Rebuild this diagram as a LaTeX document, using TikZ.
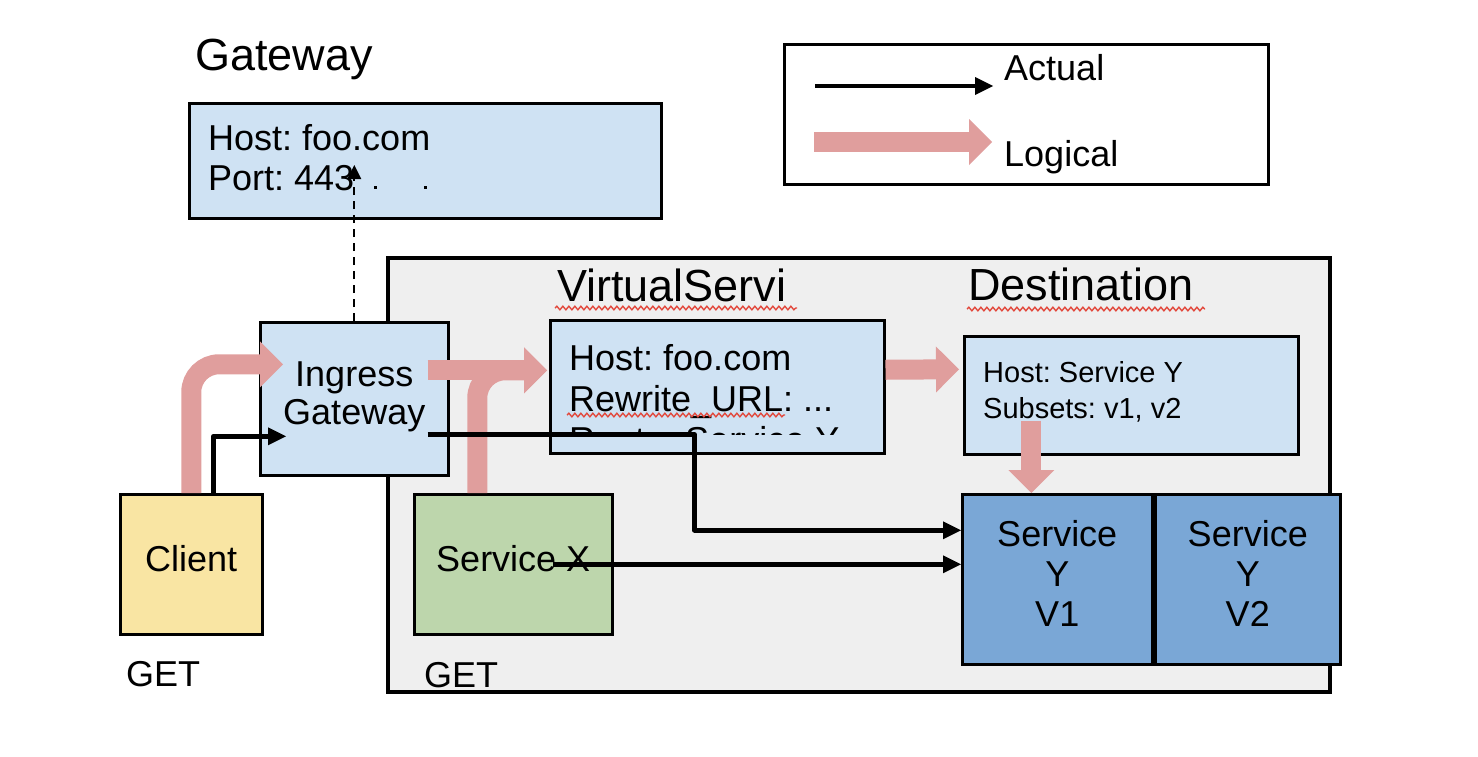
\documentclass[tikz,border=0pt]{standalone}
\usepackage{fontspec}
\setmainfont{Liberation Sans}
\usetikzlibrary{arrows.meta,decorations.pathmorphing}
\frenchspacing

\definecolor{cfgblue}{RGB}{207,226,243}
\definecolor{meshgray}{RGB}{239,239,239}
\definecolor{clientyellow}{RGB}{249,229,163}
\definecolor{svcgreen}{RGB}{189,214,172}
\definecolor{svcblue}{RGB}{122,167,214}
\definecolor{logicpink}{RGB}{224,158,157}
\definecolor{spellred}{RGB}{226,72,60}

\begin{document}
\begin{tikzpicture}[x=1pt,y=-1pt,
		logical/.style={color=logicpink, line width=20pt, -{Triangle[length=23pt,width=46pt,line width=0pt]}},
		actual/.style={color=black, line width=4.5pt, line join=round, -{Triangle[length=18pt,width=18pt,line width=0pt]}},
		cfglink/.style={color=black, line width=2pt, dash pattern=on 8pt off 6pt, -{Triangle[length=14pt,width=14pt,line width=0pt]}},
		spell/.style={spellred, line width=1.4pt, decorate, decoration={snake, amplitude=1.8pt, segment length=6pt}}]
		\useasboundingbox (0,0) rectangle (1478,756);

		% mesh
		\node[draw, line width=4pt, fill=meshgray, anchor=north west, inner sep=0pt, minimum width=942, minimum height=434] (mesh) at (386,256) {};

		\begin{scope}[every node/.style={draw, line width=2.5pt, anchor=north west, inner sep=0pt, text depth=11pt, align=center, font=\fontsize{36}{38}\selectfont}]
			\node[fill=cfgblue, minimum width=472, minimum height=115] (gw) at (188,102) {};
			\node[fill=white, minimum width=484, minimum height=140] (legend) at (783,43) {};
			\node[fill=cfgblue, minimum width=188, minimum height=153] (ingress) at (259,321) {Ingress\\Gateway};
			\node[fill=cfgblue, minimum width=334, minimum height=133] (vs) at (549,319) {};
			\node[fill=cfgblue, minimum width=334, minimum height=118] (dr) at (963,335) {};
			\node[fill=clientyellow, minimum width=142, minimum height=140] (client) at (119,493) {Client};
			\node[fill=svcgreen, minimum width=198, minimum height=140] (svcx) at (413,493) {Service X};
			\node[fill=svcblue, minimum width=190, minimum height=170, font=\fontsize{36}{40}\selectfont] (yv1) at (961,493) {Service\\Y\\V1};
			\node[fill=svcblue, minimum width=185, minimum height=170, font=\fontsize{36}{40}\selectfont] (yv2) at (1154,493) {Service\\Y\\V2};
		\end{scope}

		\begin{scope}[every node/.style={inner sep=0pt, align=left, font=\fontsize{36}{40}\selectfont}]
			\node[anchor=base west, font=\fontsize{45}{52}\selectfont] (gwtitle) at (195,70) {Gateway};
			\node[anchor=base west, font=\fontsize{45}{52}\selectfont] (vstitle) at (557,301) {VirtualServi};
			\node[anchor=base west, font=\fontsize{45}{52}\selectfont] (drtitle) at (968,300) {Destination};
			\node[anchor=north west] (gwtext) at (208,124) {Host: foo.com\\Port: 443};
			\node[anchor=north west, font=\fontsize{29}{36}\selectfont] (drtext) at (983,361) {Host: Service Y\\Subsets: v1, v2};
			\node[anchor=base west] (getclient) at (126,686) {GET};
			\node[anchor=base west] (getsvcx) at (424,687) {GET};
			\node[anchor=base west] (actual) at (1004,80) {Actual};
			\node[anchor=base west] (logical) at (1004,166) {Logical};
		\end{scope}

		\begin{scope}
			\clip (vs.north west) rectangle ([yshift=20pt]vs.south east);
			\node[anchor=north west, inner sep=0pt, align=left, font=\fontsize{36}{41}\selectfont] (vstext) at (569,344) {Host: foo.com\\Rewrite\_URL: ...\\Route: Service Y};
		\end{scope}

		% spell-check marks
		\draw[spell] (555,308) -- (797,308);
		\draw[spell] (967,309) -- (1205,309);
		\draw[spell] (567,415) -- (785,415);
		\fill (374,186) rectangle (377,189);
		\fill (424,186) rectangle (427,189);

		% legend
		\coordinate (act0) at (815,86);
		\coordinate (act1) at (993,86);
		\coordinate (log0) at (814,142);
		\coordinate (log1) at (992,142);

		% logical flow
		\draw[logical, rounded corners=28pt] (client.north) |- ([xshift=24pt,yshift=34.5pt]ingress.west);
		\draw[logical] ([xshift=-22pt,yshift=28.5pt]ingress.east) -- ([xshift=-2pt,yshift=16.5pt]vs.west);
		\draw[logical, rounded corners=28pt] ([xshift=-36pt]svcx.north) |- ([xshift=-2pt,yshift=16.5pt]vs.west);
		\draw[logical] ([yshift=17pt]vs.east) -- ([xshift=-4pt,yshift=26pt]dr.west);
		\draw[logical] ([xshift=-100pt,yshift=35pt]dr.south) -- ([xshift=-26pt]yv1.north);
		\draw[logical] (log0) -- (log1);

		% actual flow
		\draw[cfglink] (ingress.north) -- ++(0,-156);
		\draw[actual] ([xshift=22pt]client.north) |- ([xshift=27pt,yshift=-37.5pt]ingress.west);
		\draw[actual] ([xshift=-22pt,yshift=-35.5pt]ingress.east) -- ++(267,0) |- ([yshift=49pt]yv1.west);
		\draw[actual] ([xshift=40pt]svcx.center) -- ([yshift=15pt]yv1.west);
		\draw[actual] (act0) -- (act1);
	\end{tikzpicture}
\end{document}
